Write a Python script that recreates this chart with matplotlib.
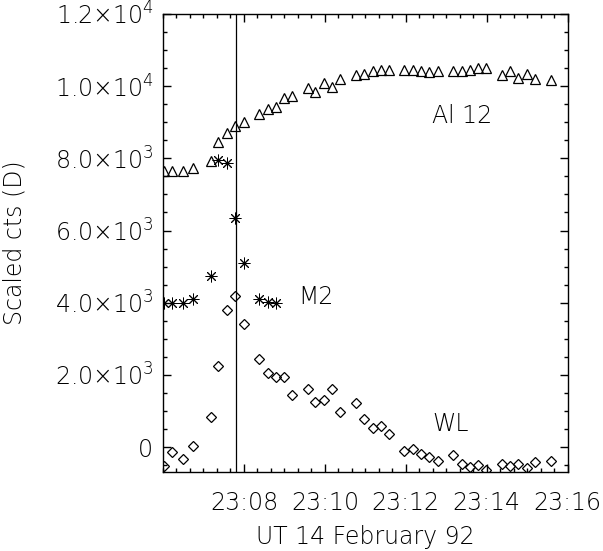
import numpy as np
import pandas as pd
import matplotlib
matplotlib.use("Agg")
import matplotlib.pyplot as plt
import matplotlib.dates as mdates
from matplotlib.ticker import MultipleLocator, FuncFormatter

# sample times, UT 14 Feb 1992
times = ["23:06:02", "23:06:13", "23:06:29", "23:06:45", "23:07:11", "23:07:22",
         "23:07:35", "23:07:47", "23:08:00", "23:08:23", "23:08:35", "23:08:47",
         "23:08:59", "23:09:11", "23:09:35", "23:09:46", "23:09:59", "23:10:11",
         "23:10:23", "23:10:46", "23:10:58", "23:11:11", "23:11:23", "23:11:35",
         "23:11:58", "23:12:10", "23:12:23", "23:12:35", "23:12:47", "23:13:10",
         "23:13:23", "23:13:35", "23:13:47", "23:13:59", "23:14:23", "23:14:35",
         "23:14:46", "23:14:59", "23:15:11", "23:15:35"]

al12 = [7650, 7650, 7650, 7720, 7920, 8440, 8690, 8910, 9000, 9220, 9360, 9410,
        9660, 9720, 9940, 9830, 10080, 9990, 10210, 10320, 10350, 10410, 10460, 10440,
        10450, 10450, 10420, 10390, 10420, 10410, 10410, 10440, 10490, 10490, 10300, 10410,
        10240, 10350, 10190, 10160]

m2 = [3980, 3980, 3980, 4090, 4740, 7950, 7870, 6350, 5110, 4100, 4010, 4000]

wl = [-520, -130, -330, 40, 840, 2240, 3810, 4180, 3400, 2440, 2040, 1930,
      1950, 1450, 1600, 1250, 1300, 1610, 970, 1210, 780, 520, 590, 360,
      -100, -60, -200, -270, -380, -220, -470, -550, -500, -640, -470, -520,
      -470, -570, -420, -390]

t_mark = "23:07:48"
day = "1992-02-14 "

t = pd.to_datetime([day + s for s in times])
tm = pd.to_datetime(day + t_mark)

plt.rcParams['font.family'] = ['DejaVu Sans']
plt.rcParams['font.weight'] = 'light'
plt.rcParams['axes.labelweight'] = 'light'
plt.rcParams['mathtext.fontset'] = 'custom'
plt.rcParams['mathtext.rm'] = 'DejaVu Sans:light'
plt.rcParams['mathtext.it'] = 'DejaVu Sans:light'
plt.rcParams['mathtext.default'] = 'regular'

fs = 17
fig = plt.figure(figsize=(6.03, 5.51), dpi=100)
ax = fig.add_axes([0.2703, 0.1434, 0.6712, 0.8312])

ax.plot(t, al12, ls='none', marker='^', ms=7.6, mfc='none', mec='k', mew=0.9)
ax.plot(t[:len(m2)], m2, ls='none', marker=(8, 2, 0), ms=8.4, mec='k', mew=0.7)
ax.plot(t, wl, ls='none', marker='D', ms=5.6, mfc='none', mec='k', mew=0.9)
ax.axvline(tm, color='k', lw=0.9)

ax.set_xlim(pd.to_datetime(day + "23:06:00"), pd.to_datetime(day + "23:16:00"))
ax.set_ylim(-690, 12000)

ax.xaxis.set_major_locator(mdates.MinuteLocator(byminute=[8, 10, 12, 14, 16]))
ax.xaxis.set_minor_locator(mdates.SecondLocator(bysecond=[0, 20, 40]))
ax.xaxis.set_major_formatter(mdates.DateFormatter('%H:%M'))

ax.yaxis.set_major_locator(MultipleLocator(2000))
ax.yaxis.set_minor_locator(MultipleLocator(500))

def sci(v, pos):
    if v == 0:
        return '0'
    e = int(np.floor(np.log10(abs(v))))
    return r'$%.1f{\times}10^{%d}$' % (v / 10**e, e)

ax.yaxis.set_major_formatter(FuncFormatter(sci))

ax.tick_params(which='both', direction='in', top=True, right=True, width=1.0)
ax.tick_params(which='major', length=6)
ax.tick_params(which='minor', length=3)
ax.tick_params(axis='x', which='major', labelsize=fs, pad=14)
ax.tick_params(axis='y', which='major', labelsize=fs, pad=7)
for s in ax.spines.values():
    s.set_linewidth(1.0)

ax.set_xlabel("UT 14 February 92", fontsize=fs, labelpad=7)
ax.set_ylabel("Scaled cts (D)", fontsize=fs, labelpad=20)

ax.text(pd.to_datetime(day + "23:12:39"), 8970, "Al 12", fontsize=fs)
ax.text(pd.to_datetime(day + "23:09:20"), 3960, "M2", fontsize=fs)
ax.text(pd.to_datetime(day + "23:12:40"), 440, "WL", fontsize=fs)

fig.savefig("out.png", dpi=100)
